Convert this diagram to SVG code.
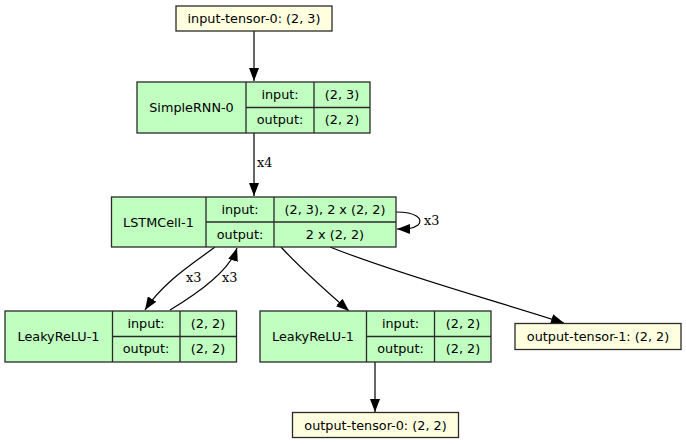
<svg xmlns="http://www.w3.org/2000/svg" width="686" height="444" viewBox="0 0 686 444">
<style>
.g{fill:#c1ffc1;stroke:#2a2a2a;stroke-width:1.3}
.y{fill:#ffffe0;stroke:#2a2a2a;stroke-width:1.3}
.l{stroke:#2a2a2a;stroke-width:1.3;fill:none}
.t{font-family:"DejaVu Sans",sans-serif;font-size:12.8px;fill:#000;text-anchor:middle}
.e{font-family:"DejaVu Serif",serif;font-size:12.8px;fill:#000}
.c{stroke:#000;stroke-width:1.2;fill:none;marker-end:url(#a)}
</style>
<defs>
<marker id="a" markerUnits="userSpaceOnUse" markerWidth="14" markerHeight="10" viewBox="0 0 14 10" refX="13" refY="5" orient="auto">
<path d="M0,0 L13,5 L0,10 Z" fill="#000"/>
</marker>
</defs>
<rect width="686" height="444" fill="#fff"/>
<g id="connectors">
<path class="c" d="M254,31 L254,81"/>
<path class="c" d="M254,133 L254,196"/>
<text class="e" x="257" y="167">x4</text>
<path class="c" d="M396,212 C416,212 424,219 418,225 C413,229 406,229 397,229"/>
<text class="e" x="424" y="225">x3</text>
<path class="c" d="M215,247 C195,262 163,282 145,310"/>
<text class="e" x="186" y="282">x3</text>
<path class="c" d="M170,310 C200,292 230,270 237,248"/>
<text class="e" x="222" y="282">x3</text>
<path class="c" d="M281,247 C300,268 325,290 349,311"/>
<path class="c" d="M330,247 C400,275 500,302 564,323"/>
<path class="c" d="M375,362 L375,412"/>
</g>
<g id="input-tensor-0">
<rect class="y" x="176" y="6" width="156" height="25"/>
<text class="t" x="254" y="23">input-tensor-0: (2, 3)</text>
</g>
<g id="SimpleRNN-0">
<rect class="g" x="137" y="82" width="233" height="51"/>
<path class="l" d="M246,82V133M314,82V133M246,107.5H370"/>
<text class="t" x="191.5" y="112">SimpleRNN-0</text>
<text class="t" x="280" y="99">input:</text>
<text class="t" x="342" y="99">(2, 3)</text>
<text class="t" x="280" y="124">output:</text>
<text class="t" x="342" y="124">(2, 2)</text>
</g>
<g id="LSTMCell-1">
<rect class="g" x="111.5" y="197" width="284.5" height="50"/>
<path class="l" d="M206,197V247M274,197V247M206,222H396"/>
<text class="t" x="158.5" y="226.5">LSTMCell-1</text>
<text class="t" x="240" y="214">input:</text>
<text class="t" x="335" y="214">(2, 3), 2 x (2, 2)</text>
<text class="t" x="240" y="239">output:</text>
<text class="t" x="335" y="239">2 x (2, 2)</text>
</g>
<g id="LeakyReLU-1-a">
<rect class="g" x="5" y="311" width="231.5" height="51"/>
<path class="l" d="M112.5,311V362M180,311V362M112.5,336.5H236.5"/>
<text class="t" x="58.5" y="341">LeakyReLU-1</text>
<text class="t" x="146" y="328">input:</text>
<text class="t" x="208" y="328">(2, 2)</text>
<text class="t" x="146" y="353">output:</text>
<text class="t" x="208" y="353">(2, 2)</text>
</g>
<g id="LeakyReLU-1-b">
<rect class="g" x="260" y="311" width="231" height="51"/>
<path class="l" d="M366.5,311V362M434.5,311V362M366.5,336.5H491"/>
<text class="t" x="313" y="341">LeakyReLU-1</text>
<text class="t" x="400.5" y="328">input:</text>
<text class="t" x="463" y="328">(2, 2)</text>
<text class="t" x="400.5" y="353">output:</text>
<text class="t" x="463" y="353">(2, 2)</text>
</g>
<g id="output-tensor-1">
<rect class="y" x="515" y="323.5" width="166" height="26"/>
<text class="t" x="598" y="341">output-tensor-1: (2, 2)</text>
</g>
<g id="output-tensor-0">
<rect class="y" x="292.5" y="412.5" width="166" height="25"/>
<text class="t" x="375.5" y="429.5">output-tensor-0: (2, 2)</text>
</g>
</svg>
